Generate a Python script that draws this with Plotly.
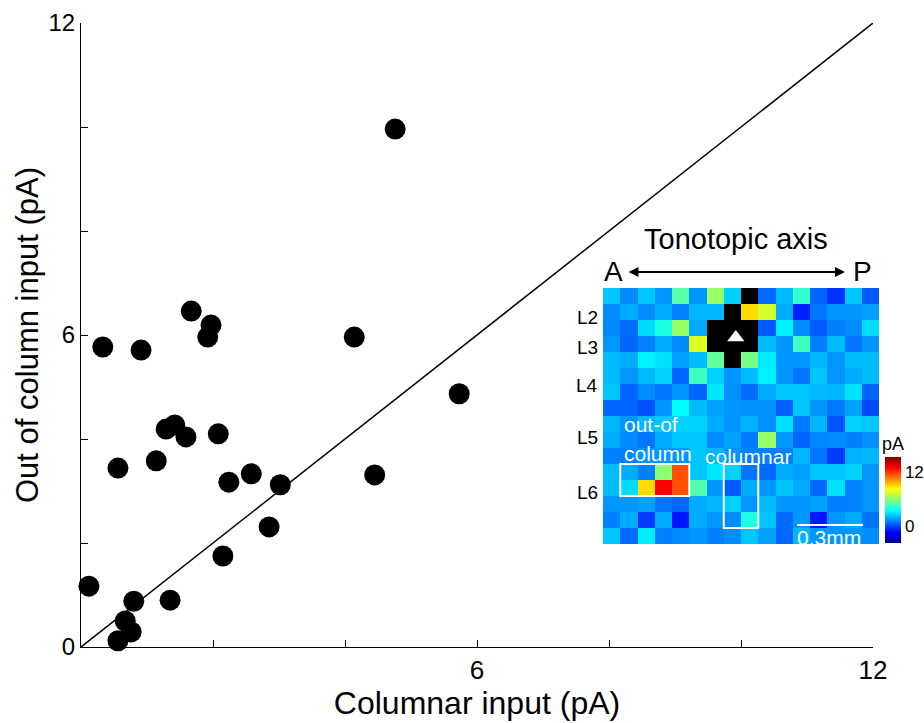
import plotly.graph_objects as go

# ---------------- scatter data (pA) ----------------
columnar_input = [4.76, 0.33, 0.91, 1.67, 1.97, 1.92, 4.14, 5.73, 1.29, 1.42, 1.59, 2.08,
                  0.56, 1.14, 2.24, 2.58, 3.02, 4.45, 2.85, 2.15, 0.12, 0.80, 1.35, 0.76,
                  0.67, 0.56]
out_of_column_input = [9.96, 5.77, 5.71, 6.46, 6.19, 5.96, 5.96, 4.87, 4.19, 4.27, 4.04, 4.10,
                       3.44, 3.58, 3.17, 3.33, 3.12, 3.31, 2.31, 1.75, 1.17, 0.88, 0.90, 0.29,
                       0.50, 0.12]
unity_line = [0, 12]
tick_vals = [0, 2, 4, 6, 8, 10, 12]
x_tick_text = ["", "", "", "6", "", "", "12"]
y_tick_text = ["0", "", "", "6", "", "", "12"]

# ---------------- inset map (pA), 16 x 16, None = direct response (black) ----------------
N = None
map_rows = [
    [2.3, 1.2, 2.3, 1.4, 5.0, 1.4, 6.2, 2.5, N, 0.6, 2.1, 4.3, 0.5, -0.5, 2.3, 0.3],
    [1.2, 1.8, 1.2, 1.8, 1.0, 2.0, 2.0, N, 8.8, 7.3, 1.8, -0.8, 0.8, 1.4, 1.4, 1.6],
    [1.2, 0.6, 2.7, 3.9, 6.2, 1.8, N, N, N, 0.3, 3.1, 1.2, 0.3, 1.0, 1.2, 2.7],
    [1.4, 0.5, 1.0, 1.8, 1.2, 7.5, N, N, N, 2.1, 1.4, 4.5, 1.0, 2.1, 0.8, 1.4],
    [2.1, 1.8, 3.1, 2.8, 1.6, 2.1, 5.2, N, 5.6, 3.0, 1.4, 1.4, 2.0, 1.4, 2.1, 2.1],
    [2.1, 1.4, 2.1, 2.5, 0.5, 4.5, 2.5, 1.4, 2.1, 3.1, 1.4, 0.8, 2.3, 1.4, 1.8, 2.1],
    [2.3, 0.5, 1.2, 0.8, 1.4, 0.5, 2.9, 1.3, 0.6, 1.8, 2.3, 2.3, 2.1, 2.0, 2.8, 0.5],
    [0.5, 0.5, 0.1, 1.4, 3.4, 2.1, 1.6, 1.4, 1.3, 1.3, 0.4, 2.3, 1.4, 0.9, 1.6, 0.0],
    [2.0, 1.4, 2.0, 2.3, 2.5, 2.5, 1.8, 1.4, 1.9, 1.3, 2.8, 0.9, 2.0, 0.1, 2.5, 2.3],
    [1.8, 1.2, 0.8, 1.8, 2.3, 2.3, 1.2, 1.6, 0.9, 6.2, 1.5, 0.5, 1.1, 1.2, 1.0, 1.3],
    [1.0, 1.0, 1.4, 1.4, 1.4, 2.3, 2.0, 1.4, 1.0, 1.0, 1.0, 2.0, 0.8, -0.3, 1.9, 2.0],
    [2.1, 1.8, 1.0, 6.0, 11.4, 2.3, 2.9, 2.5, 0.8, 0.6, 1.8, 1.6, 2.3, 2.3, 2.5, 1.4],
    [2.1, 2.7, 8.8, 13.0, 11.4, 4.9, 1.4, 0.3, 1.8, 1.4, 2.3, 1.8, 0.5, 2.8, 1.0, 1.4],
    [1.4, 1.4, 1.6, 0.8, 0.5, 1.8, 2.0, 2.5, 1.4, 2.1, 1.4, 1.4, 1.6, 1.0, 1.0, 1.4],
    [1.0, 1.8, -0.3, 1.8, -1.0, 1.8, 1.4, 1.2, 3.9, 2.3, 0.6, 1.4, -1.0, 1.4, 1.8, 0.8],
    [2.3, 0.6, 3.0, 1.0, 1.2, 1.4, 1.0, 1.2, 2.3, 1.6, 0.5, 2.0, 1.4, 1.4, 1.4, 1.2],
]
map_cols = list(range(16))
map_row_idx = list(range(16))
layer_labels = ["L2", "L3", "L4", "L5", "L6"]
colorbar_ticks = [0, 12]
color_min, color_max = -3.8, 15.3

FONT = "Liberation Sans, Arial, Helvetica, sans-serif"

jet = [[0.0, "rgb(0,0,143)"], [0.125, "rgb(0,0,255)"], [0.375, "rgb(0,255,255)"],
       [0.625, "rgb(255,255,0)"], [0.875, "rgb(255,0,0)"], [1.0, "rgb(128,0,0)"]]

mask = [[1 if v is None else None for v in row] for row in map_rows]

# figure geometry (pixels)
L, T, B = 81, 23, 76
PW = 924 - L
PH = 723 - T - B


def px(X):
    return (X - L) / PW


def py(Y):
    return (723 - B - Y) / PH


fig = go.Figure()

fig.add_trace(go.Scatter(x=unity_line, y=unity_line, mode="lines",
                         line=dict(color="black", width=1.5), hoverinfo="skip",
                         showlegend=False))
fig.add_trace(go.Scatter(x=columnar_input, y=out_of_column_input, mode="markers",
                         marker=dict(color="black", size=21, line=dict(width=0)),
                         cliponaxis=False, showlegend=False))

fig.add_trace(go.Heatmap(z=map_rows, x=map_cols, y=map_row_idx, xaxis="x2", yaxis="y2",
                         colorscale=jet, zmin=color_min, zmax=color_max,
                         colorbar=dict(
                             x=px(885), xanchor="left", xpad=0,
                             y=py(500), yanchor="middle", ypad=0,
                             lenmode="pixels", len=86, thickness=16,
                             outlinewidth=0, tickvals=colorbar_ticks,
                             ticktext=[str(t) for t in colorbar_ticks],
                             ticks="", ticklen=0,
                             tickfont=dict(family=FONT, size=17, color="black"),
                         )))
fig.add_trace(go.Heatmap(z=mask, x=map_cols, y=map_row_idx, xaxis="x2", yaxis="y2",
                         colorscale=[[0, "black"], [1, "black"]], showscale=False,
                         hoverinfo="skip"))
fig.add_trace(go.Scatter(x=[7.2], y=[2.6], xaxis="x2", yaxis="y2", mode="markers",
                         marker=dict(symbol="triangle-up", color="white", size=15),
                         showlegend=False, hoverinfo="skip"))

fig.update_layout(
    width=924, height=723,
    margin=dict(l=L, r=0, t=T, b=B, autoexpand=False),
    paper_bgcolor="white", plot_bgcolor="rgba(0,0,0,0)",
    showlegend=False,
    font=dict(family=FONT, color="black"),
    xaxis=dict(domain=[0, px(873)], range=[0, 12], showline=True, linecolor="black",
               linewidth=1.2, ticks="inside", ticklen=7, tickcolor="black",
               tickvals=tick_vals, ticktext=x_tick_text, showgrid=False, zeroline=False,
               tickfont=dict(size=26, family=FONT),
               title=dict(text="Columnar input (pA)", font=dict(size=32, family=FONT),
                          standoff=6)),
    yaxis=dict(domain=[0, 1], range=[0, 12], showline=True, linecolor="black",
               linewidth=1.2, ticks="inside", ticklen=7, tickcolor="black",
               tickvals=tick_vals, ticktext=y_tick_text, showgrid=False, zeroline=False,
               tickfont=dict(size=24, family=FONT),
               title=dict(text="Out of column input (pA)", font=dict(size=31, family=FONT),
                          standoff=0)),
    xaxis2=dict(domain=[px(603), px(879)], range=[-0.5, 15.5],
                anchor="y2", showgrid=False, zeroline=False, showticklabels=False,
                ticks="", showline=False),
    yaxis2=dict(domain=[py(544), py(288)], range=[15.5, -0.5],
                anchor="x2", showgrid=False, zeroline=False, showticklabels=False,
                ticks="", showline=False),
)

fig.add_shape(type="rect", xref="x2", yref="y2", x0=0.5, x1=4.5, y0=10.5, y1=12.5,
              line=dict(color="white", width=2))
fig.add_shape(type="rect", xref="x2", yref="y2", x0=6.5, x1=8.5, y0=10.5, y1=14.5,
              line=dict(color="white", width=2))
fig.add_shape(type="line", xref="x2", yref="y2", x0=10.75, x1=14.57, y0=14.31, y1=14.31,
              line=dict(color="white", width=2))

ann = []


def label(text, X, Y, size, color="black", xanchor="center"):
    ann.append(dict(text=text, x=px(X), y=py(Y), xref="paper", yref="paper",
                    xanchor=xanchor, yanchor="middle", showarrow=False,
                    font=dict(size=size, family=FONT, color=color)))


label("Tonotopic axis", 736, 239, 29)
label("A", 613, 271, 28)
label("P", 862, 271, 28)
ann.append(dict(text="", x=px(845), y=py(272), ax=627 - 845, ay=0, xref="paper",
                yref="paper", axref="pixel", ayref="pixel", showarrow=True, arrowhead=2,
                startarrowhead=2, arrowside="end+start", arrowwidth=2, arrowsize=1,
                startarrowsize=1, arrowcolor="black"))
for lbl, yy in zip(layer_labels, [317, 348, 386, 437, 492]):
    label(lbl, 600, yy, 19, xanchor="right")
label("pA", 893, 444, 18)
label("out-of", 622, 425, 21, color="white", xanchor="left")
label("column", 622, 453, 21, color="white", xanchor="left")
label("columnar", 703, 456, 21, color="white", xanchor="left")
label("0.3mm", 829, 537, 21, color="white")
fig.update_layout(annotations=ann)

fig.write_html("out.html")
